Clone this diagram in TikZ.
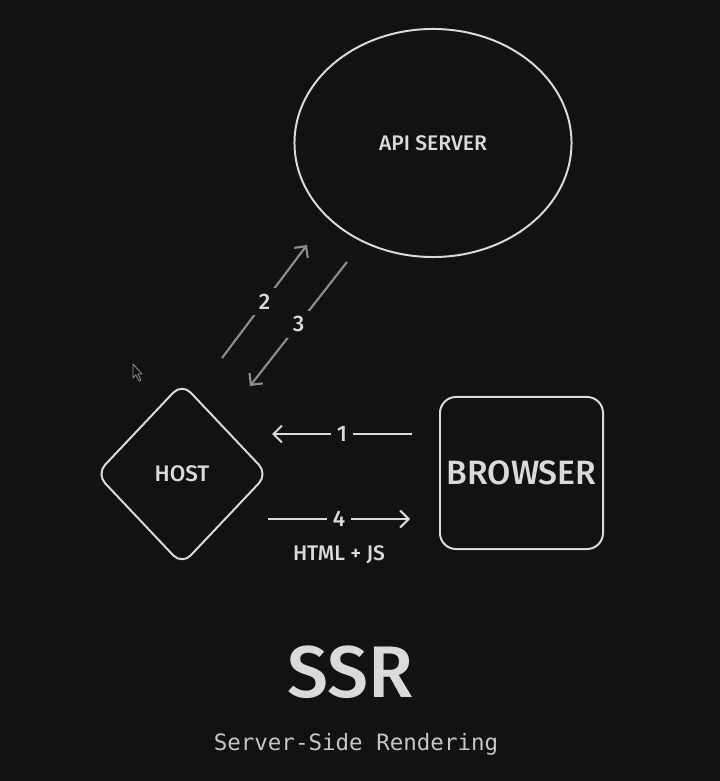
\documentclass[tikz,border=0pt]{standalone}
\usepackage{fontspec}
\setmainfont{Fira Sans}[BoldFont={Fira Sans Medium}]
\setmonofont{DejaVu Sans Mono}
\usetikzlibrary{shapes.geometric,arrows.meta,positioning}
\definecolor{bg}{HTML}{121212}
\definecolor{ink}{HTML}{DADADA}
\definecolor{dim}{HTML}{8E8E8E}
\tikzset{
    server/.style={ellipse, draw=ink, minimum width=6.925cm, minimum height=5.7cm, font=\bfseries\fontsize{15}{15}\selectfont},
    hostbox/.style={diamond, draw=ink, rounded corners=9pt, minimum width=4.3cm, minimum height=4.55cm, inner sep=0pt, font=\bfseries\fontsize{16}{16}\selectfont},
    clientbox/.style={rectangle, draw=ink, rounded corners=0.4cm, minimum width=4.075cm, minimum height=3.8cm, font=\bfseries\fontsize{24}{24}\selectfont},
    msg/.style={draw=ink, line width=1.5pt, -{Straight Barb[length=6pt,width=12pt]}},
    faint/.style={msg, draw=dim},
    num/.style={fill=bg, inner sep=4pt, font=\bfseries\fontsize{16}{16}\selectfont}
}
\begin{document}
\begin{tikzpicture}[x=0.025cm, y=-0.025cm, line width=1.4pt, text=ink]
    \fill[bg] (0,0) rectangle (720,781);

    \node[server] (api) at (433,143) {API SERVER};
    \node[hostbox] (host) at (182,474) {HOST};
    \node[clientbox] (browser) at (521.5,473) {BROWSER};

    % free ends of the arrows
    \coordinate (s2) at (222,358);
    \coordinate (e2) at (307,245);
    \coordinate (s3) at (347,262);
    \coordinate (e3) at (250,386);
    \coordinate (s1) at (412,434);
    \coordinate (e1) at (272,434);
    \coordinate (s4) at (268,519);
    \coordinate (e4) at (410,519);

    \draw[faint] (s2) -- node[num] {2} (e2);
    \draw[faint] (s3) -- node[num] {3} (e3);
    \draw[msg] (s1) -- node[num] {1} (e1);
    \draw[msg] (s4) -- node[num] {4} (e4);
    \node[font=\bfseries\fontsize{15}{15}\selectfont] (payload) at (339,555) {HTML + JS};

    % mouse pointer
    \draw[dim, line width=0.6pt, line join=round] (133,364) -- (133,378) -- (136,375) -- (139,381)
        -- (141,380) -- (138,374) -- (142,374) -- cycle;

    \node[font=\bfseries\fontsize{52}{52}\selectfont] (title) at (350,672) {SSR};
    \node[font=\ttfamily\fontsize{16}{16}\selectfont, text=ink!90!bg] (subtitle) at (356,744) {Server-Side Rendering};
\end{tikzpicture}
\end{document}
